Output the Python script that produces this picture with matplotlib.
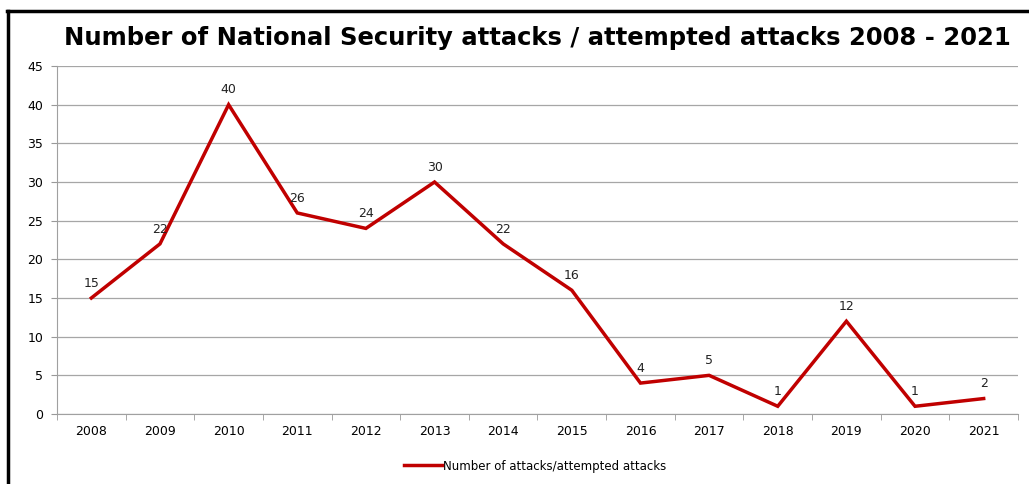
import matplotlib.pyplot as plt
from matplotlib.lines import Line2D
import numpy as np

years = [2008, 2009, 2010, 2011, 2012, 2013, 2014, 2015, 2016, 2017, 2018, 2019, 2020, 2021]
attacks = [15, 22, 40, 26, 24, 30, 22, 16, 4, 5, 1, 12, 1, 2]
title = "Number of National Security attacks / attempted attacks 2008 - 2021"
series_name = "Number of attacks/attempted attacks"

red = "#C00000"

fig = plt.figure(figsize=(10.29, 4.84), dpi=100)
ax = fig.add_axes([0.0554, 0.1446, 0.9339, 0.719])

x = np.arange(len(years))
ax.plot(x, attacks, color=red, lw=2.5, solid_joinstyle="miter")
for xi, v in zip(x, attacks):
    ax.annotate(str(v), (xi, v), xytext=(0, 6), textcoords="offset points",
                ha="center", va="bottom", fontsize=9, color="#222222")

ax.set_xlim(-0.5, len(years) - 0.5)
ax.set_ylim(0, 45)
ax.set_yticks(range(0, 46, 5))
ax.set_xticks(x)
ax.set_xticklabels([str(y) for y in years], fontsize=9)
ax.tick_params(axis="x", length=0, pad=8)
ax.set_xticks(np.arange(-0.5, len(years), 1), minor=True)
ax.tick_params(axis="x", which="minor", length=4, color="#999999")
ax.tick_params(axis="y", labelsize=9, length=4, color="#999999", pad=6)
ax.grid(axis="y", color="#a6a6a6", lw=0.9)
ax.set_axisbelow(True)
for s in ["top", "right"]:
    ax.spines[s].set_visible(False)
for s in ["left", "bottom"]:
    ax.spines[s].set_color("#a0a0a0")

fig.text(0.522, 0.922, title, ha="center", va="center", fontsize=17.5,
         fontweight="bold", color="black")

handle = Line2D([0], [0], color=red, lw=2.5)
fig.legend([handle], [series_name], loc="center", bbox_to_anchor=(0.52, 0.037),
           frameon=False, fontsize=8.5, handlelength=3.2, handletextpad=0.1)

# outer frame lines (top and left)
fig.add_artist(Line2D([0.007, 1.0], [0.977, 0.977], transform=fig.transFigure,
                      color="black", lw=2.5))
fig.add_artist(Line2D([0.008, 0.008], [0.0, 0.977], transform=fig.transFigure,
                      color="black", lw=2.5))

fig.savefig("out.png", dpi=100)
